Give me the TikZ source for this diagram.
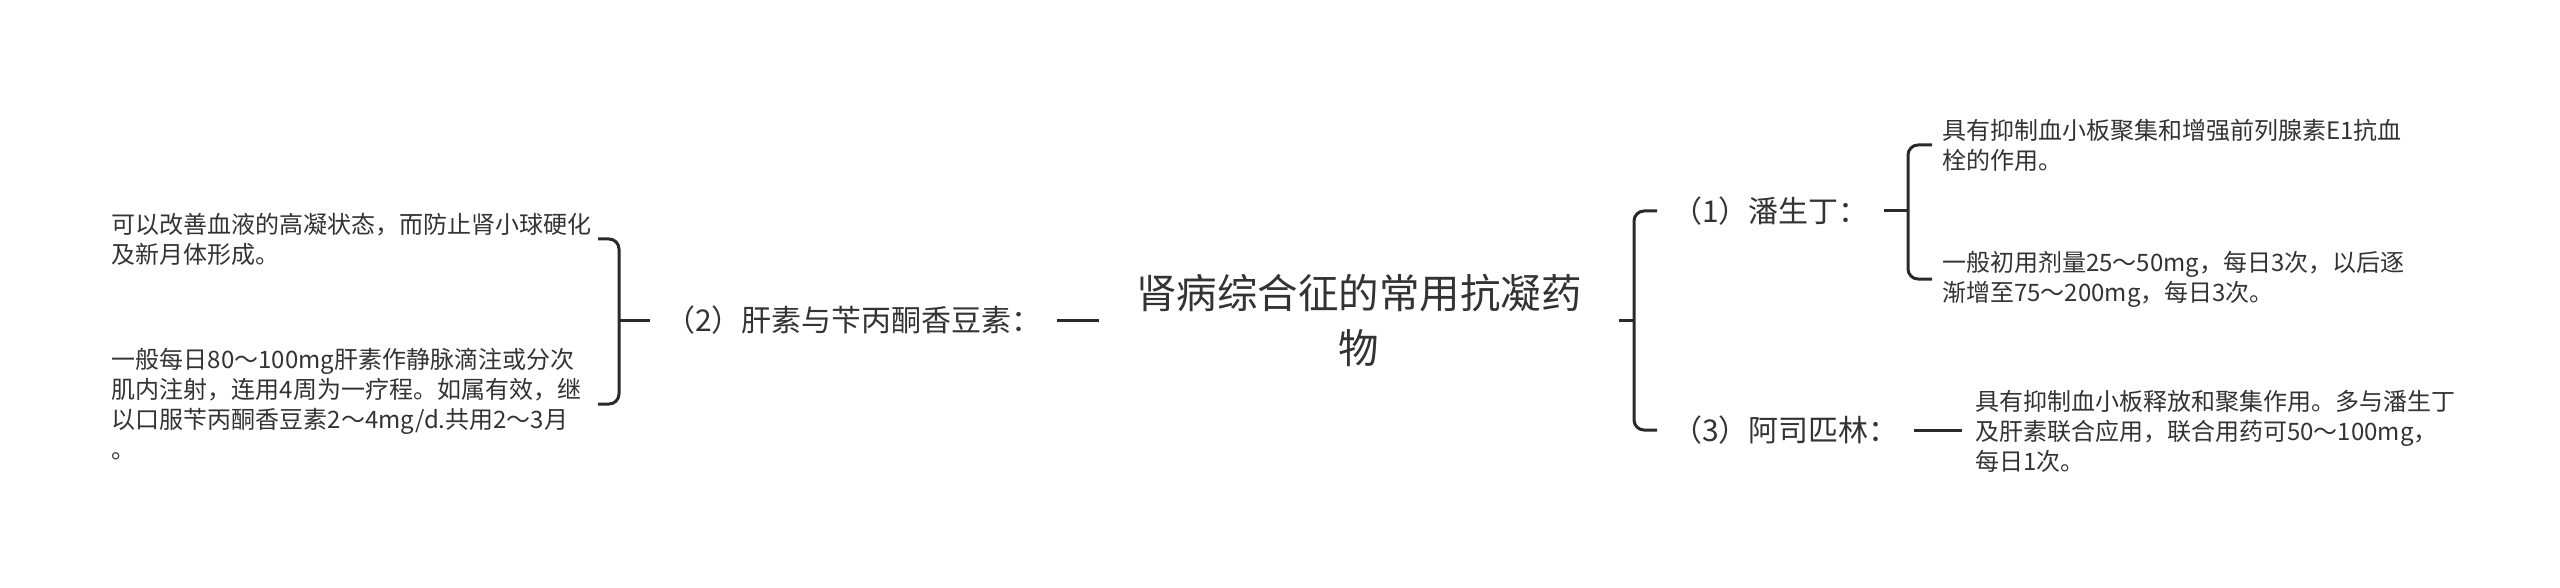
\documentclass[tikz,border=0pt]{standalone}
\usepackage{fontspec}
\newfontfamily\cjk{Noto Sans CJK SC}
\usepackage{tikz}
\definecolor{ink}{HTML}{333333}
\definecolor{wire}{HTML}{2A2A2A}
\tikzstyle{root} = [font={\cjk\fontsize{40.5}{55}\selectfont}, align=center, inner xsep=37pt, text=ink]
\tikzstyle{branch} = [font={\cjk\fontsize{30}{36}\selectfont}, inner xsep=15pt, text=ink]
\tikzstyle{leaf} = [font={\cjk\fontsize{24}{30}\selectfont}, align=left, inner xsep=10pt, text=ink]
\tikzstyle{leftleaf} = [leaf, text width=478pt, inner xsep=8pt]
\tikzstyle{link} = [draw=wire, line width=3pt, rounded corners=10pt]
\tikzstyle{tmp} = [coordinate]

\begin{document}
\begin{tikzpicture}[x=1pt, y=-1pt]
            \useasboundingbox (0,0) rectangle (2560,588);
            \node [root] (root) at (1359,320) {肾病综合征的常用抗凝药\\物};
            \node [branch, anchor=east] (b2) at (1057,320) {（2）肝素与苄丙酮香豆素：};
            \node [branch, anchor=west] (b1) at (1657,211) {（1）潘生丁：};
            \node [branch, anchor=west] (b3) at (1657,430) {（3）阿司匹林：};
            \node [leftleaf, anchor=east] (l2a) at (598,239) {可以改善血液的高凝状态，而防止肾小球硬化\\及新月体形成。};
            \node [leftleaf, anchor=east] (l2b) at (598,404) {一般每日80～100mg肝素作静脉滴注或分次\\肌内注射，连用4周为一疗程。如属有效，继\\以口服苄丙酮香豆素2～4mg/d.共用2～3月\\。};
            \node [leaf, anchor=west] (l1a) at (1932,145) {具有抑制血小板聚集和增强前列腺素E1抗血\\栓的作用。};
            \node [leaf, anchor=west] (l1b) at (1932,279) {一般初用剂量25～50mg，每日3次，以后逐\\渐增至75～200mg，每日3次。};
            \node [leaf, anchor=west, inner xsep=13pt] (l3) at (1962,431) {具有抑制血小板释放和聚集作用。多与潘生丁\\及肝素联合应用，联合用药可50～100mg，\\每日1次。};
            \node [tmp] (brL) at (619,320) {};
            \node [tmp] (brR) at (1634,320) {};
            \node [tmp] (brS) at (1908,211) {};

            \draw [link] (root.west) -- (b2.east);
            \draw [link] (b2.west) -- (brL);
            \draw [link] (l2a.east) -| (brL) |- (l2b.east);
            \draw [link] (root.east) -- (brR);
            \draw [link] (b1.west) -| (brR) |- (b3.west);
            \draw [link] (b1.east) -- (brS);
            \draw [link] (l1a.west) -| (brS) |- (l1b.west);
            \draw [link] (b3.east) -- (b3.east -| l3.west);
        \end{tikzpicture}
\end{document}
